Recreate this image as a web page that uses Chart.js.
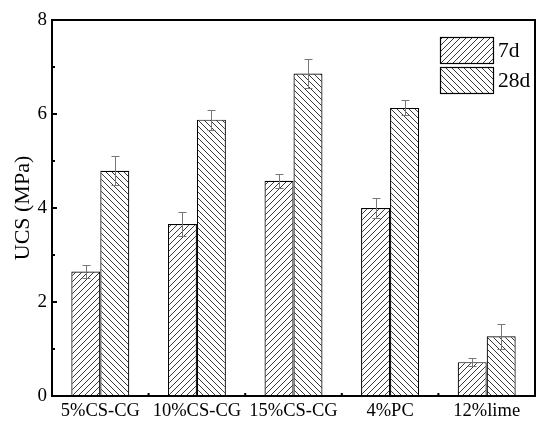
<!DOCTYPE html>
<html>
<head>
<meta charset="utf-8">
<script src="https://cdn.jsdelivr.net/npm/chart.js@4.4.0/dist/chart.umd.min.js"></script>
<style>
  body { margin: 0; background: #fff; }
  canvas { display: block; }
</style>
</head>
<body>
<canvas id="myChart" width="550" height="425"></canvas>
<script>
// values
var categories = ["5%CS-CG", "10%CS-CG", "15%CS-CG", "4%PC", "12%lime"];
var ucs7 = [2.65, 3.66, 4.58, 4.00, 0.72];
var err7 = [0.14, 0.25, 0.15, 0.21, 0.09];
var ucs28 = [4.79, 5.88, 6.86, 6.13, 1.27];
var err28 = [0.31, 0.21, 0.31, 0.16, 0.26];
var yTicks = [0, 2, 4, 6, 8];
var yMinorTicks = [1, 3, 5, 7];

var serif = "'Liberation Serif', 'DejaVu Serif', serif";

// hatch tiles: dir 1 = "/", dir -1 = "\"
function makeHatch(dir) {
  var s = 6;
  var c = document.createElement("canvas");
  c.width = s; c.height = s;
  var g = c.getContext("2d");
  g.fillStyle = "#fff";
  g.fillRect(0, 0, s, s);
  g.strokeStyle = "#222";
  g.lineWidth = 0.9;
  g.beginPath();
  if (dir > 0) {
    g.moveTo(-1, s + 1); g.lineTo(s + 1, -1);
    g.moveTo(-1, 1); g.lineTo(1, -1);
    g.moveTo(s - 1, s + 1); g.lineTo(s + 1, s - 1);
  } else {
    g.moveTo(-1, -1); g.lineTo(s + 1, s + 1);
    g.moveTo(s - 1, -1); g.lineTo(s + 1, 1);
    g.moveTo(-1, s - 1); g.lineTo(1, s + 1);
  }
  g.stroke();
  return g.createPattern(c, "repeat");
}

var ctx = document.getElementById("myChart").getContext("2d");
var pat7 = makeHatch(1);
var pat28 = makeHatch(-1);

var errs = [err7, err28];

var extras = {
  id: "extras",
  afterDatasetsDraw: function(chart) {
    var c = chart.ctx;
    var y = chart.scales.y;
    // error bars
    c.save();
    c.strokeStyle = "#777";
    c.lineWidth = 1;
    chart.data.datasets.forEach(function(ds, i) {
      var meta = chart.getDatasetMeta(i);
      meta.data.forEach(function(el, j) {
        var v = ds.data[j], e = errs[i][j];
        var yt = Math.round(y.getPixelForValue(v + e)) + 0.5;
        var yb = Math.round(y.getPixelForValue(v - e)) + 0.5;
        var x = Math.round(el.x) + 0.5;
        c.beginPath();
        c.moveTo(x, yt); c.lineTo(x, yb);
        c.moveTo(x - 4, yt); c.lineTo(x + 4, yt);
        c.moveTo(x - 4, yb); c.lineTo(x + 4, yb);
        c.stroke();
      });
    });
    c.restore();
  },
  afterDraw: function(chart) {
    var c = chart.ctx;
    var a = chart.chartArea;
    var y = chart.scales.y;
    var x = chart.scales.x;
    c.save();
    // frame
    c.strokeStyle = "#000";
    c.lineWidth = 2;
    c.strokeRect(a.left, a.top, a.right - a.left, a.bottom - a.top);
    // inward y ticks
    c.beginPath();
    yTicks.forEach(function(t) {
      var py = y.getPixelForValue(t);
      c.moveTo(a.left, py); c.lineTo(a.left + 5, py);
    });
    yMinorTicks.forEach(function(t) {
      var py = y.getPixelForValue(t);
      c.moveTo(a.left, py); c.lineTo(a.left + 3, py);
    });
    // small ticks between categories
    for (var k = 1; k < categories.length; k++) {
      var px = (x.getPixelForValue(k - 1) + x.getPixelForValue(k)) / 2;
      c.moveTo(px, a.bottom); c.lineTo(px, a.bottom - 3);
    }
    c.stroke();

    // legend
    var lx = a.right - 95, ly = a.top + 17, bw = 53, bh = 26, gap = 4;
    chart.data.datasets.forEach(function(ds, i) {
      var by = ly + i * (bh + gap);
      c.fillStyle = ds.backgroundColor;
      c.fillRect(lx, by, bw, bh);
      c.lineWidth = 1.2;
      c.strokeStyle = "#000";
      c.strokeRect(lx + 0.5, by + 0.5, bw, bh);
      c.fillStyle = "#000";
      c.font = "21.5px " + serif;
      c.textBaseline = "middle";
      c.textAlign = "left";
      c.fillText(ds.label, lx + bw + 5, by + bh / 2 + 1);
    });
    c.restore();
  }
};

var chart = new Chart(ctx, {
  type: "bar",
  data: {
    labels: categories,
    datasets: [{
      label: "7d",
      data: ucs7,
      backgroundColor: pat7,
      borderColor: "#000",
      borderWidth: 1.2,
      categoryPercentage: 0.6,
      barPercentage: 1
    }, {
      label: "28d",
      data: ucs28,
      backgroundColor: pat28,
      borderColor: "#000",
      borderWidth: 1.2,
      categoryPercentage: 0.6,
      barPercentage: 1
    }]
  },
  options: {
    responsive: false,
    animation: false,
    devicePixelRatio: 1,
    layout: { padding: { top: 20, right: 15, left: 0, bottom: 0 } },
    plugins: { legend: { display: false }, tooltip: { enabled: false } },
    scales: {
      x: {
        grid: { display: false, drawTicks: false },
        border: { display: false },
        ticks: { color: "#000", font: { family: serif, size: 18.5 }, padding: 4, maxRotation: 0, autoSkip: false },
        afterFit: function(s) { s.height = 29; }
      },
      y: {
        min: 0,
        max: 8,
        grid: { display: false, drawTicks: false },
        border: { display: false },
        ticks: { color: "#000", font: { family: serif, size: 19 }, stepSize: 2, padding: 5 },
        title: { display: true, text: "UCS (MPa)", color: "#000", font: { family: serif, size: 22 }, padding: { top: 10, bottom: 0 } },
        afterFit: function(s) { s.width = 52; }
      }
    }
  },
  plugins: [extras]
});
</script>
</body>
</html>
